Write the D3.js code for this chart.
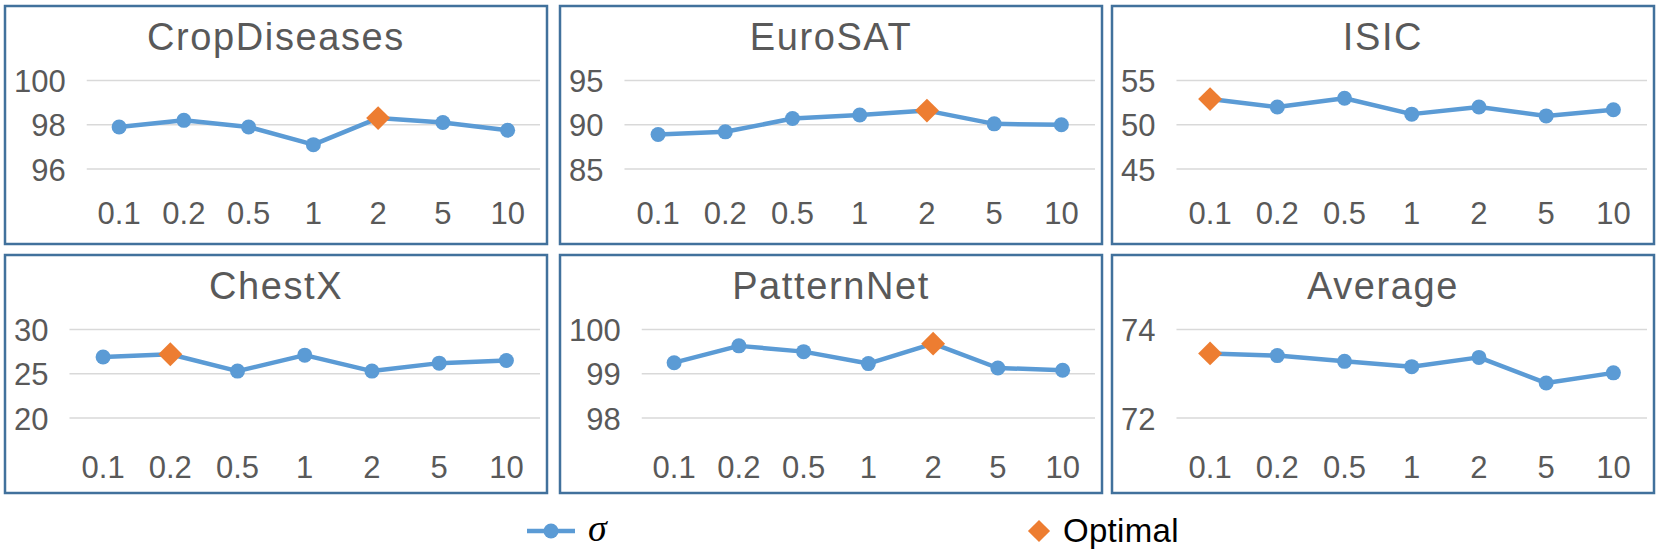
<!DOCTYPE html>
<html>
<head>
<meta charset="utf-8">
<script src="https://cdn.jsdelivr.net/npm/d3@7"></script>
<style>
  html, body { margin: 0; padding: 0; background: #fff; }
  svg { display: block; }
</style>
</head>
<body>
<svg id="chart" width="1661" height="555"></svg>
<script>
// ---- data ----
const categories = ["0.1", "0.2", "0.5", "1", "2", "5", "10"];
const titles = ["CropDiseases", "EuroSAT", "ISIC", "ChestX", "PatternNet", "Average"];
const cropDiseases = [97.9, 98.2, 97.9, 97.1, 98.3, 98.1, 97.75];
const euroSAT = [88.9, 89.2, 90.7, 91.1, 91.6, 90.1, 90.0];
const isic = [52.9, 52.0, 53.0, 51.2, 52.0, 51.0, 51.7];
const chestX = [26.9, 27.2, 25.3, 27.1, 25.3, 26.2, 26.5];
const patternNet = [99.25, 99.63, 99.5, 99.23, 99.68, 99.13, 99.08];
const average = [73.46, 73.41, 73.28, 73.16, 73.37, 72.79, 73.02];
const yTicks = [[96, 98, 100], [85, 90, 95], [45, 50, 55], [20, 25, 30], [98, 99, 100], [72, 74]];
const optimalIndex = [4, 4, 0, 1, 4, 0];
const seriesName = "σ";
const optimalName = "Optimal";

const allSeries = [cropDiseases, euroSAT, isic, chestX, patternNet, average];

// ---- layout ----
const svg = d3.select("#chart");
const colX = [5, 560, 1112];
const rowY = [6, 255];
const xLabelY = [193, 198];
const panelW = 542, panelH = 238;
const lineColor = "#5B9BD5", optColor = "#ED7D31";
const textColor = "#595959";
const font = "'Liberation Sans', Arial, sans-serif";
const tickSize = 31;

allSeries.forEach((vals, i) => {
  const row = Math.floor(i / 3);
  const px = colX[i % 3], py = rowY[row];
  const g = svg.append("g").attr("transform", `translate(${px},${py})`);

  // measure y tick label width
  const ticks = yTicks[i];
  const tmp = g.selectAll("text.tmp").data(ticks).join("text")
    .attr("font-family", font).attr("font-size", tickSize)
    .text(d => d);
  let maxW = 0;
  tmp.each(function() { maxW = Math.max(maxW, this.getComputedTextLength()); });
  tmp.remove();

  const plotLeft = 9 + maxW + 21;
  const plotRight = 535;
  const x = d3.scaleBand().domain(categories).range([plotLeft, plotRight]);
  const y = d3.scaleLinear().domain([ticks[0], ticks[ticks.length - 1]]).range([163, 74.5]);

  // gridlines
  g.append("g").selectAll("line").data(ticks).join("line")
    .attr("x1", plotLeft).attr("x2", plotRight)
    .attr("y1", d => y(d)).attr("y2", d => y(d))
    .attr("stroke", "#D9D9D9").attr("stroke-width", 1.5);

  // y axis (labels only)
  const yAxis = d3.axisLeft(y).tickValues(ticks).tickSize(0).tickPadding(21).tickFormat(d3.format("d"));
  const ya = g.append("g").attr("transform", `translate(${plotLeft},0)`).call(yAxis);
  ya.select(".domain").remove();
  ya.selectAll("text").attr("font-family", font).attr("font-size", tickSize)
    .attr("fill", textColor).attr("dy", "0.36em");

  // x axis labels
  const xAxis = d3.axisBottom(x).tickSize(0).tickPadding(0);
  const xa = g.append("g").attr("transform", `translate(0,${xLabelY[row]})`).call(xAxis);
  xa.select(".domain").remove();
  xa.selectAll("text").attr("font-family", font).attr("font-size", tickSize)
    .attr("fill", textColor).attr("dy", "0.8em");

  // title
  g.append("text").attr("x", panelW / 2).attr("y", 44)
    .attr("text-anchor", "middle").attr("font-family", font).attr("font-size", 38)
    .attr("letter-spacing", 1.6).attr("fill", textColor).text(titles[i]);

  // line
  const cx = (d, j) => x(categories[j]) + x.bandwidth() / 2;
  const line = d3.line().x((d, j) => cx(d, j)).y(d => y(d));
  g.append("path").datum(vals).attr("d", line)
    .attr("fill", "none").attr("stroke", lineColor).attr("stroke-width", 4.5)
    .attr("stroke-linejoin", "round");
  g.append("g").selectAll("circle").data(vals).join("circle")
    .attr("cx", (d, j) => cx(d, j)).attr("cy", d => y(d)).attr("r", 7.5)
    .attr("fill", lineColor);

  // optimal diamond
  const oi = optimalIndex[i];
  const ox = cx(vals[oi], oi), oy = y(vals[oi]);
  g.append("path")
    .attr("d", d3.symbol().type(d3.symbolDiamond2).size(2 * 13.5 * 13.5)())
    .attr("transform", `translate(${ox},${oy})`)
    .attr("fill", optColor);

  // border
  g.append("rect").attr("x", 0).attr("y", 0).attr("width", panelW).attr("height", panelH)
    .attr("fill", "none").attr("stroke", "#41719C").attr("stroke-width", 2.5);
});

// ---- legend ----
const lg = svg.append("g");
lg.append("line").attr("x1", 527).attr("x2", 575).attr("y1", 531).attr("y2", 531)
  .attr("stroke", lineColor).attr("stroke-width", 4.5);
lg.append("circle").attr("cx", 551).attr("cy", 531).attr("r", 7.5).attr("fill", lineColor);
lg.append("text").attr("x", 588).attr("y", 541)
  .attr("font-family", "'Liberation Serif', 'Times New Roman', serif").attr("font-style", "italic")
  .attr("font-size", 38).attr("fill", "#000").text(seriesName);
lg.append("path")
  .attr("d", d3.symbol().type(d3.symbolDiamond2).size(2 * 12.5 * 12.5)())
  .attr("transform", "translate(1039,531)").attr("fill", optColor);
lg.append("text").attr("x", 1063).attr("y", 542)
  .attr("font-family", font).attr("font-size", 33).attr("letter-spacing", 0.3)
  .attr("fill", "#000").text(optimalName);
</script>
</body>
</html>
